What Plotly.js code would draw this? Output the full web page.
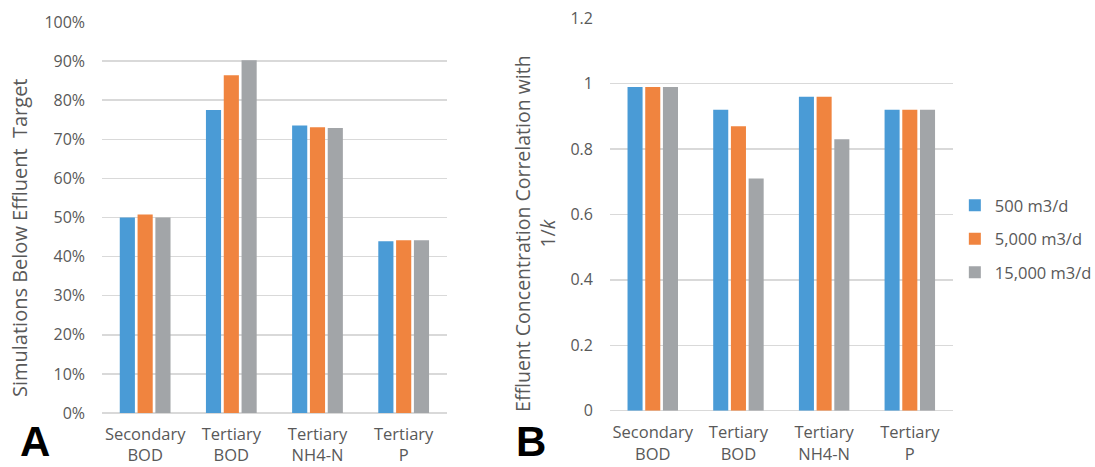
<!DOCTYPE html>
<html>
<head>
<meta charset="utf-8">
<script src="https://cdn.plot.ly/plotly-3.0.1.min.js"></script>
<style>html,body{margin:0;padding:0;background:#fff;}#chart{width:1095px;height:467px;}</style>
</head>
<body>
<div id="chart"></div>
<script>
const categories = ["Secondary<br>BOD", "Tertiary<br>BOD", "Tertiary<br>NH4-N", "Tertiary<br>P"];
const seriesNames = ["500 m3/d", "5,000 m3/d", "15,000 m3/d"];
const colors = ["#4a9bd6", "#f0843f", "#a2a5a8"];
const titleA = "Simulations Below Effluent  Target";
const titleB = "Effluent Concentration Correlation with<br>1/<i>k</i>";

// Panel A: fraction of simulations below effluent target
const pctBelow500 = [0.500, 0.775, 0.735, 0.439];
const pctBelow5000 = [0.508, 0.864, 0.731, 0.442];
const pctBelow15000 = [0.500, 0.902, 0.729, 0.442];

// Panel B: effluent concentration correlation with 1/k
const corr500 = [0.99, 0.92, 0.96, 0.92];
const corr5000 = [0.99, 0.87, 0.96, 0.92];
const corr15000 = [0.99, 0.71, 0.83, 0.92];

const panelA = [pctBelow500, pctBelow5000, pctBelow15000];
const panelB = [corr500, corr5000, corr15000];

const traces = [];
panelA.forEach((vals, i) => {
  traces.push({type: "bar", x: categories, y: vals, name: seriesNames[i],
    marker: {color: colors[i]}, xaxis: "x", yaxis: "y", showlegend: false,
    legendgroup: "g" + i});
});
panelB.forEach((vals, i) => {
  traces.push({type: "bar", x: categories, y: vals, name: seriesNames[i],
    marker: {color: colors[i]}, xaxis: "x2", yaxis: "y2", showlegend: true,
    legendgroup: "g" + i});
});

const font = "'Open Sans', sans-serif";
const tickColor = "#595959";
const gridColor = "#d9d9d9";

const layout = {
  width: 1095, height: 467,
  margin: {l: 0, r: 0, t: 0, b: 0, autoexpand: false},
  paper_bgcolor: "#fff", plot_bgcolor: "#fff",
  barmode: "group", bargap: 0.38, bargroupgap: 0.15,
  font: {family: font, color: tickColor},
  xaxis: {domain: [0.0932, 0.408], anchor: "y", showline: false, ticks: "",
    ticklabelstandoff: 9,
    tickfont: {size: 16.5, color: tickColor, family: font}, showgrid: false},
  yaxis: {domain: [0.1156, 0.9529], anchor: "x", range: [0, 1], dtick: 0.1,
    tickformat: ".0%", gridcolor: gridColor, gridwidth: 1.5, zeroline: true,
    zerolinecolor: gridColor, zerolinewidth: 1.5, showline: false, ticks: "",
    ticklabelstandoff: 16,
    tickfont: {size: 16, color: tickColor, family: font}},
  xaxis2: {domain: [0.557, 0.870], anchor: "y2", showline: false, ticks: "",
    ticklabelstandoff: 10,
    tickfont: {size: 16.5, color: tickColor, family: font}, showgrid: false},
  yaxis2: {domain: [0.1206, 0.9608], anchor: "x2", range: [0, 1.2], dtick: 0.2,
    gridcolor: gridColor, gridwidth: 1.5, zeroline: true, zerolinecolor: gridColor,
    zerolinewidth: 1.5, showline: false, ticks: "",
    ticklabelstandoff: 16,
    tickfont: {size: 16, color: tickColor, family: font}},
  legend: {x: 0.872, y: 0.488, xanchor: "left", yanchor: "middle",
    font: {size: 16.5, color: tickColor, family: font}, itemwidth: 30,
    tracegroupgap: 9, bgcolor: "rgba(0,0,0,0)"},
  annotations: [
    {text: titleA, xref: "paper", yref: "paper", x: 0.0178, y: 0.4914,
      xanchor: "center", yanchor: "middle", textangle: -90, showarrow: false,
      font: {size: 20, color: tickColor, family: font}},
    {text: titleB, xref: "paper", yref: "paper", x: 0.4885, y: 0.501,
      xanchor: "center", yanchor: "middle", textangle: -90, showarrow: false,
      font: {size: 19.5, color: tickColor, family: font}},
    {text: "<b>A</b>", xref: "paper", yref: "paper", x: 0.032, y: 0,
      xanchor: "center", yanchor: "bottom", showarrow: false,
      font: {size: 42, color: "#000", family: "Liberation Sans, Arial, sans-serif"}},
    {text: "<b>B</b>", xref: "paper", yref: "paper", x: 0.485, y: 0,
      xanchor: "center", yanchor: "bottom", showarrow: false,
      font: {size: 42, color: "#000", family: "Liberation Sans, Arial, sans-serif"}}
  ]
};

Plotly.newPlot("chart", traces, layout, {displayModeBar: false, staticPlot: true});
</script>
</body>
</html>
